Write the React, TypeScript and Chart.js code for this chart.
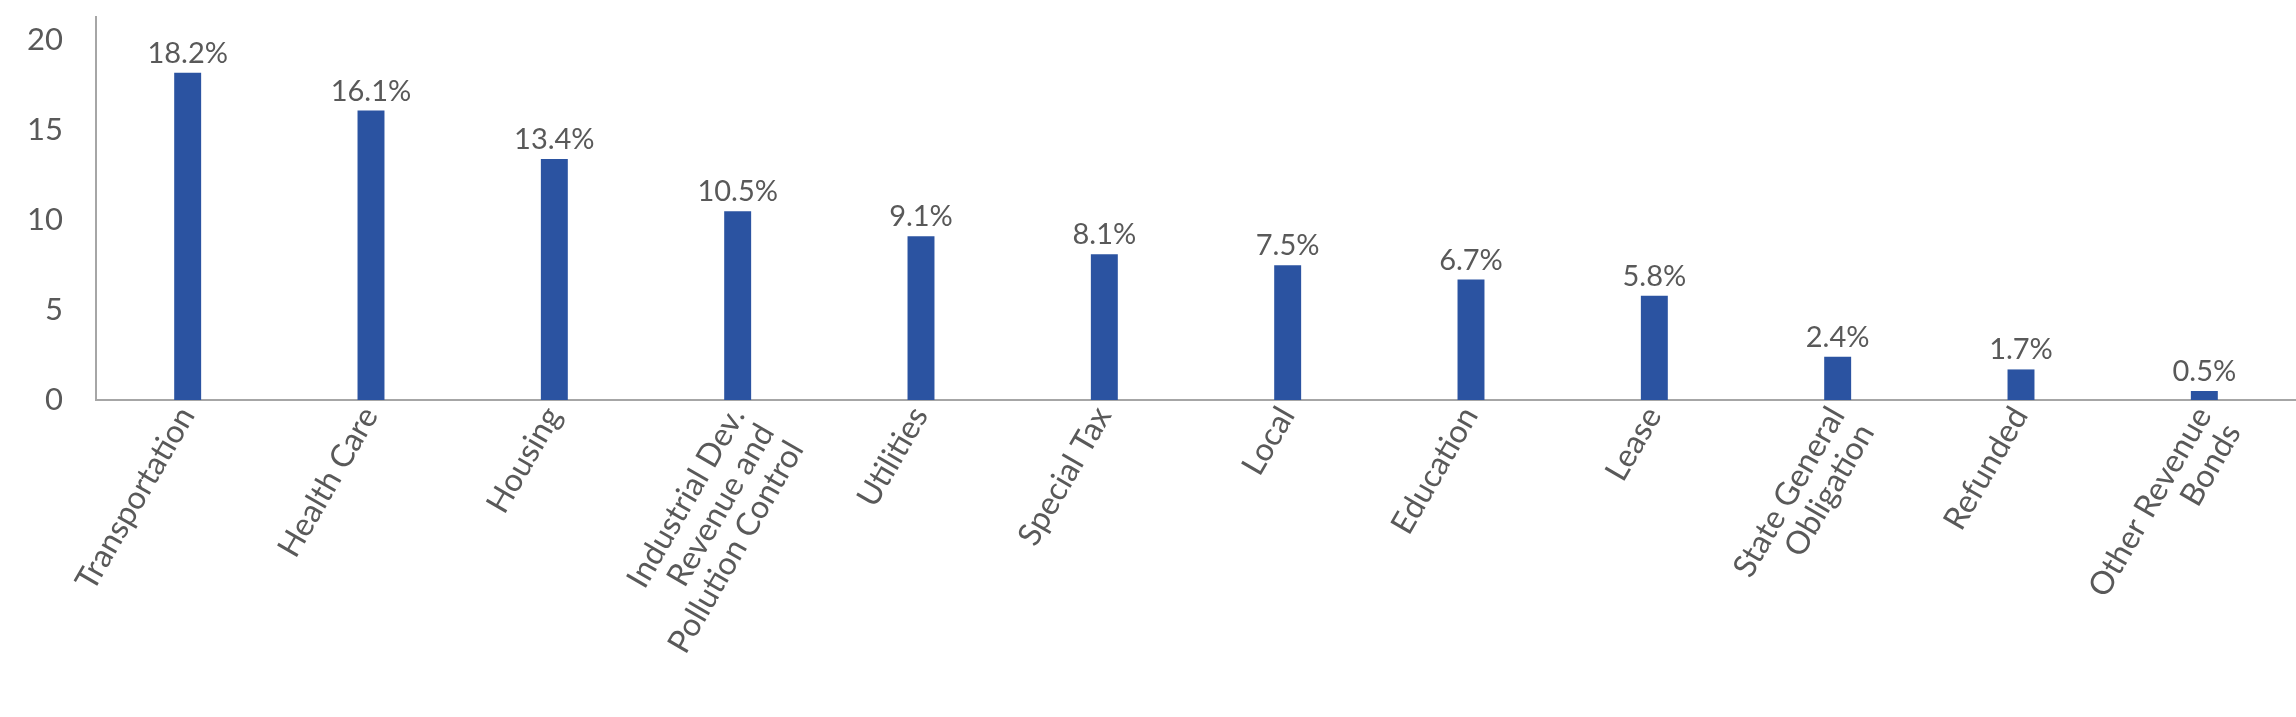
import React, { useEffect, useRef } from 'react';
import { Chart, registerables } from 'chart.js';

Chart.register(...registerables);

const categories: (string | string[])[] = [
  'Transportation',
  'Health Care',
  'Housing',
  ['Industrial Dev.', 'Revenue and', 'Pollution Control'],
  'Utilities',
  'Special Tax',
  'Local',
  'Education',
  'Lease',
  ['State General', 'Obligation'],
  'Refunded',
  ['Other Revenue', 'Bonds'],
];

const values: number[] = [18.2, 16.1, 13.4, 10.5, 9.1, 8.1, 7.5, 6.7, 5.8, 2.4, 1.7, 0.5];

const yTickValues: number[] = [0, 5, 10, 15, 20];

const BAR_COLOR = '#2B53A1';
const TEXT_COLOR = '#595959';
const AXIS_COLOR = '#A6A6A6';
const FONT = 'Lato';
const LABEL_ANGLE = 60;

const valueLabels = {
  id: 'valueLabels',
  afterDatasetsDraw(chart: any) {
    const ctx = chart.ctx;
    const meta = chart.getDatasetMeta(0);
    ctx.save();
    ctx.font = `29px ${FONT}`;
    ctx.fillStyle = TEXT_COLOR;
    ctx.textAlign = 'center';
    ctx.textBaseline = 'alphabetic';
    meta.data.forEach((bar: any, i: number) => {
      ctx.fillText(values[i].toFixed(1) + '%', bar.x, bar.y - 10);
    });
    ctx.restore();
  },
};

const categoryLabels = {
  id: 'categoryLabels',
  afterDraw(chart: any) {
    const ctx = chart.ctx;
    const xs = chart.scales.x;
    ctx.save();
    ctx.font = `32px ${FONT}`;
    ctx.fillStyle = TEXT_COLOR;
    ctx.textAlign = 'right';
    ctx.textBaseline = 'alphabetic';
    categories.forEach((lab, i) => {
      const lines = Array.isArray(lab) ? lab : [lab];
      const x = xs.getPixelForValue(i);
      ctx.save();
      ctx.translate(x + 8, xs.top + 15);
      ctx.rotate((-LABEL_ANGLE * Math.PI) / 180);
      lines.forEach((ln, k) => ctx.fillText(ln, 0, k * 34));
      ctx.restore();
    });
    ctx.restore();
  },
};

export default function App() {
  const canvasRef = useRef<HTMLCanvasElement | null>(null);

  useEffect(() => {
    document.body.style.margin = '0';
    const canvas = canvasRef.current;
    if (!canvas) return;
    const chart = new Chart(canvas, {
      type: 'bar',
      data: {
        labels: categories.map((c) => (Array.isArray(c) ? c.join(' ') : c)),
        datasets: [
          {
            data: values,
            backgroundColor: BAR_COLOR,
            borderWidth: 0,
            barPercentage: 0.147,
            categoryPercentage: 1,
          },
        ],
      },
      options: {
        animation: false,
        responsive: true,
        maintainAspectRatio: false,
        layout: { padding: { top: 17, right: 0, left: 0, bottom: 0 } },
        plugins: {
          legend: { display: false },
          tooltip: { enabled: false },
          title: { display: false },
        },
        scales: {
          x: {
            offset: true,
            grid: { display: false, drawTicks: false },
            border: { display: true, color: AXIS_COLOR, width: 2 },
            ticks: { display: false, autoSkip: false },
            afterFit: (scale: any) => {
              scale.height = 317;
              scale.paddingLeft = 0;
              scale.paddingRight = 0;
            },
          },
          y: {
            min: 0,
            max: 21.3,
            grid: { display: false, drawTicks: false },
            border: { display: true, color: AXIS_COLOR, width: 2 },
            ticks: {
              color: TEXT_COLOR,
              font: { family: FONT, size: 31 },
              padding: 33,
            },
            afterBuildTicks: (scale: any) => {
              scale.ticks = yTickValues.map((v) => ({ value: v }));
            },
            afterFit: (scale: any) => {
              scale.width = 96;
              scale.paddingTop = 0;
              scale.paddingBottom = 0;
            },
          },
        },
      },
      plugins: [valueLabels, categoryLabels],
    });
    return () => chart.destroy();
  }, []);

  return (
    <div style={{ width: '2296px', height: '717px', position: 'relative' }}>
      <canvas ref={canvasRef} />
    </div>
  );
}
